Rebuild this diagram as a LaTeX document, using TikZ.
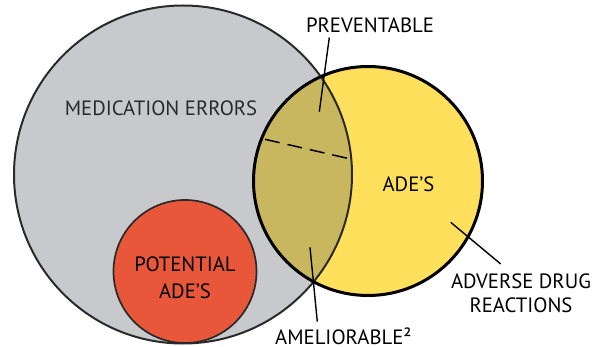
\documentclass[tikz,border=0pt]{standalone}
\usepackage{fontspec}
\setmainfont{PT Sans}
\definecolor{grayfill}{HTML}{C8C9CC}
\definecolor{yellowfill}{HTML}{FFE05C}
\definecolor{olivefill}{HTML}{C9B75F}
\definecolor{redfill}{HTML}{E8573A}
\definecolor{edgegray}{HTML}{2A2A2A}
\begin{document}
\begin{tikzpicture}[x=1pt,y=-1pt,
  lbl/.style={font=\fontsize{20.7}{25}\selectfont, text=black, inner sep=0pt, align=center},
  leader/.style={draw=black, line width=1.4pt},
  divider/.style={draw=black, line width=1.5pt, dash pattern=on 15pt off 8pt}]
\useasboundingbox (0,0) rectangle (605,347);
% centres
\coordinate (gc) at (183,174.5);
\coordinate (yc) at (368,181);
\coordinate (rc) at (185,271.5);
% fills
\fill[grayfill] (gc) circle (169);
\fill[yellowfill] (yc) circle (114.5);
\begin{scope}
  \clip (gc) circle (169);
  \fill[olivefill] (yc) circle (114.5);
\end{scope}
\filldraw[fill=redfill, draw=edgegray, line width=1.7pt] (rc) circle (71.5);
% outlines
\draw[edgegray, line width=2pt] (gc) circle (169);
\draw[black, line width=3pt] (yc) circle (114.5);
% dashed divider
\coordinate (d1) at (265,139.3);
\coordinate (d2) at (350.5,159);
\draw[divider] (d1) -- (d2);
% labels
\node[lbl, text=edgegray, anchor=base] (me) at (161,116) {MEDICATION ERRORS};
\node[lbl, anchor=base] (pv) at (370,32.3) {PREVENTABLE};
\node[lbl, anchor=base] (ade) at (408.5,191.7) {ADE’S};
\node[lbl, font=\fontsize{20.7}{27}\selectfont] (pot) at (185,277.9) {POTENTIAL\\ADE’S};
\node[lbl, font=\fontsize{20.7}{24.4}\selectfont] (adr) at (521,293) {ADVERSE DRUG\\REACTIONS};
\node[lbl, anchor=base west] (am) at (275,344) {AMELIORABLE²};
% leaders
\coordinate (pva) at (329.3,37.5);
\coordinate (pvb) at (319.3,111.7);
\coordinate (ama) at (310,247.3);
\coordinate (amb) at (317.3,321.7);
\coordinate (adra) at (450.7,222.3);
\coordinate (adrb) at (500.7,264);
\draw[leader] (pva) -- (pvb);
\draw[leader] (ama) -- (amb);
\draw[leader] (adra) -- (adrb);
\end{tikzpicture}
\end{document}
